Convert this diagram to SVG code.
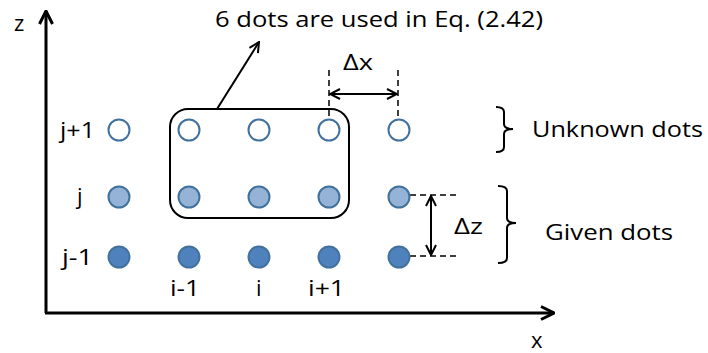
<svg xmlns="http://www.w3.org/2000/svg" width="708" height="353" viewBox="0 0 708 353">
<defs>
<style>
text{font-family:"Open Sans","Noto Sans","Liberation Sans",sans-serif;font-size:22px;fill:#000}
.dot{stroke:#41719C;stroke-width:2}
.u{fill:#fff}
.g{fill:#95B3D7}
.k{fill:#4F81BD}
.ln{fill:none;stroke:#000}
.dash{fill:none;stroke:#000;stroke-width:1.5;stroke-dasharray:6,4}
</style>
<marker id="ah" viewBox="0 0 12 12" refX="11" refY="6" markerWidth="12" markerHeight="12" markerUnits="userSpaceOnUse" orient="auto-start-reverse">
<path d="M1,1 L11,6 L1,11" fill="none" stroke="#000" stroke-width="2"/>
</marker>
<marker id="ahb" viewBox="0 0 16 16" refX="15" refY="8" markerWidth="16" markerHeight="16" markerUnits="userSpaceOnUse" orient="auto">
<path d="M2,1.5 L15,8 L2,14.5" fill="none" stroke="#000" stroke-width="3"/>
</marker>
</defs>
<g id="connectors">
<path id="axis-z" class="ln" stroke-width="3" d="M46,313 L46,11" marker-end="url(#ahb)"/>
<path id="axis-x" class="ln" stroke-width="3" d="M45,313 L554,313" marker-end="url(#ahb)"/>
<path id="callout" class="ln" stroke-width="2" d="M217,109 L259,42" marker-end="url(#ah)"/>
<path class="dash" d="M329,70 L329,120"/>
<path class="dash" d="M398,70 L398,120"/>
<path id="dx-arrow" class="ln" stroke-width="2" d="M330,94 L397,94" marker-start="url(#ah)" marker-end="url(#ah)"/>
<path class="dash" d="M410,195 L460,195"/>
<path class="dash" d="M410,256 L460,256"/>
<path id="dz-arrow" class="ln" stroke-width="2" d="M431,196 L431,255" marker-start="url(#ah)" marker-end="url(#ah)"/>
<path id="brace-unknown" class="ln" stroke-width="2" d="M496,107 Q504,107 504,112 L504,124 Q504,129 513,129 Q504,129 504,134 L504,147 Q504,152 496,152"/>
<path id="brace-given" class="ln" stroke-width="2" d="M498,186 Q507,186 507,191 L507,218 Q507,223 516,223 Q507,223 507,228 L507,258 Q507,263 498,263"/>
</g>
<g id="group-box"><rect x="170" y="109" width="179" height="109" rx="18" ry="18" class="ln" stroke-width="2"/></g>
<g id="dots">
<circle class="dot u" cx="119" cy="130" r="10.5"/>
<circle class="dot u" cx="189" cy="130" r="10.5"/>
<circle class="dot u" cx="259" cy="130" r="10.5"/>
<circle class="dot u" cx="329" cy="130" r="10.5"/>
<circle class="dot u" cx="399" cy="130" r="10.5"/>
<circle class="dot g" cx="119" cy="197" r="10.5"/>
<circle class="dot g" cx="189" cy="197" r="10.5"/>
<circle class="dot g" cx="259" cy="197" r="10.5"/>
<circle class="dot g" cx="329" cy="197" r="10.5"/>
<circle class="dot g" cx="399" cy="197" r="10.5"/>
<circle class="dot k" cx="119" cy="257" r="10.5"/>
<circle class="dot k" cx="189" cy="257" r="10.5"/>
<circle class="dot k" cx="259" cy="257" r="10.5"/>
<circle class="dot k" cx="329" cy="257" r="10.5"/>
<circle class="dot k" cx="399" cy="257" r="10.5"/>
</g>
<g id="labels">
<text x="215" y="27" textLength="328" lengthAdjust="spacingAndGlyphs">6 dots are used in Eq. (2.42)</text>
<text x="343" y="70" textLength="30" lengthAdjust="spacingAndGlyphs">Δx</text>
<text x="454" y="234" textLength="29" lengthAdjust="spacingAndGlyphs">Δz</text>
<text x="532" y="137" textLength="171" lengthAdjust="spacingAndGlyphs">Unknown dots</text>
<text x="545" y="240" textLength="128" lengthAdjust="spacingAndGlyphs">Given dots</text>
<text x="14" y="31">z</text>
<text x="531" y="348">x</text>
<text x="60" y="138" textLength="35" lengthAdjust="spacingAndGlyphs">j+1</text>
<text x="77" y="204">j</text>
<text x="62" y="265" textLength="31" lengthAdjust="spacingAndGlyphs">j-1</text>
<text x="170" y="296" textLength="30" lengthAdjust="spacingAndGlyphs">i-1</text>
<text x="256" y="296">i</text>
<text x="308" y="296" textLength="37" lengthAdjust="spacingAndGlyphs">i+1</text>
</g>
</svg>
